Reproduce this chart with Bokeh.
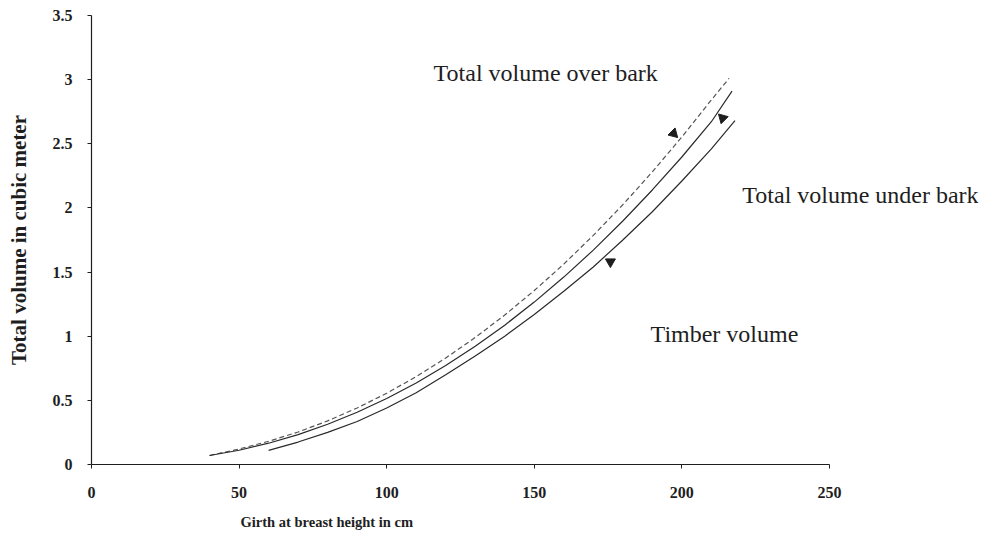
import math
from bokeh.plotting import figure
from bokeh.models import Range1d, Label, FixedTicker, ColumnDataSource, Title
from bokeh.embed import file_html
from bokeh.resources import INLINE

# Girth at breast height (cm) and volumes (m^3)
girth_over = [40, 50, 60, 70, 80, 90, 100, 110, 120, 130, 140, 150, 160, 170, 180, 190, 200, 210, 216]
vol_over = [0.07, 0.121, 0.181, 0.253, 0.340, 0.441, 0.555, 0.685, 0.830, 0.990, 1.165, 1.356, 1.562, 1.786, 2.025, 2.281, 2.553, 2.842, 3.01]

girth_under = [40, 50, 60, 70, 80, 90, 100, 110, 120, 130, 140, 150, 160, 170, 180, 190, 200, 210, 217]
vol_under = [0.07, 0.111, 0.166, 0.233, 0.314, 0.407, 0.515, 0.636, 0.771, 0.921, 1.086, 1.266, 1.461, 1.671, 1.898, 2.140, 2.397, 2.672, 2.91]

girth_timber = [60, 70, 80, 90, 100, 110, 120, 130, 140, 150, 160, 170, 180, 190, 200, 210, 218]
vol_timber = [0.11, 0.175, 0.25, 0.335, 0.44, 0.56, 0.70, 0.845, 1.00, 1.17, 1.35, 1.54, 1.75, 1.97, 2.21, 2.46, 2.68]

# arrowheads pointing from labels to curves
arrow_x = [197.2, 213.8, 175.8]
arrow_y = [2.58, 2.70, 1.58]
arrow_angle = [-3 * math.pi / 4, math.pi / 4, math.pi]

labels_text = ["Total volume over bark", "Total volume under bark", "Timber volume"]
labels_x = [115.9, 220.5, 189.4]
labels_y = [3.055, 2.104, 1.02]

x_ticks = [0, 50, 100, 150, 200, 250]
y_ticks = [0, 0.5, 1, 1.5, 2, 2.5, 3, 3.5]

SERIF = "Liberation Serif"
INK = "#1e1e1e"

# frame extends right of the x axis end so the right-hand label is not clipped
p = figure(width=980, height=540, output_backend="svg", toolbar_location=None,
           x_range=Range1d(0, 300.5), y_range=Range1d(0, 3.5),
           min_border_left=91, min_border_right=2, min_border_top=15, min_border_bottom=76)
p.outline_line_color = None
p.xgrid.grid_line_color = None
p.ygrid.grid_line_color = None
p.background_fill_color = "white"

for ax in (p.xaxis[0], p.yaxis[0]):
    ax.axis_line_color = INK
    ax.axis_line_width = 1.2
    ax.major_tick_line_color = INK
    ax.major_tick_in = 0
    ax.major_tick_out = 4
    ax.minor_tick_line_color = None
    ax.major_label_text_font = SERIF
    ax.major_label_text_font_style = "bold"
    ax.major_label_text_font_size = "16px"
    ax.major_label_text_color = INK

p.xaxis.bounds = (x_ticks[0], x_ticks[-1])
p.xaxis.ticker = FixedTicker(ticks=x_ticks)
p.yaxis.ticker = FixedTicker(ticks=y_ticks)
p.xaxis.major_label_overrides = {t: str(t) for t in x_ticks}
p.yaxis.major_label_overrides = {t: ("%g" % t) for t in y_ticks}
p.xaxis.major_label_standoff = 18
p.yaxis.major_label_standoff = 15

p.yaxis.axis_label = "Total volume in cubic meter"
p.yaxis.axis_label_text_font = SERIF
p.yaxis.axis_label_text_font_style = "bold"
p.yaxis.axis_label_text_font_size = "21px"
p.yaxis.axis_label_text_color = INK
p.yaxis.axis_label_standoff = 19

p.line(girth_over, vol_over, line_color="#555555", line_width=1.2, line_dash="5 3")
p.line(girth_under, vol_under, line_color="#2a2a2a", line_width=1.2)
p.line(girth_timber, vol_timber, line_color="#2a2a2a", line_width=1.2)

src = ColumnDataSource(dict(x=arrow_x, y=arrow_y, a=arrow_angle))
p.scatter("x", "y", source=src, marker="triangle", angle="a", size=10,
          fill_color=INK, line_color=INK)

for t, x, y in zip(labels_text, labels_x, labels_y):
    p.add_layout(Label(x=x, y=y, text=t, text_font=SERIF, text_font_size="24px",
                       text_color=INK, text_baseline="middle", text_align="left"))

xtitle = Title(text="Girth at breast height in cm", align="left", offset=149,
               text_font=SERIF, text_font_style="bold", text_font_size="14.5px",
               text_color=INK, standoff=22)
p.add_layout(xtitle, "below")

open("out.html", "w").write(file_html(p, INLINE))
